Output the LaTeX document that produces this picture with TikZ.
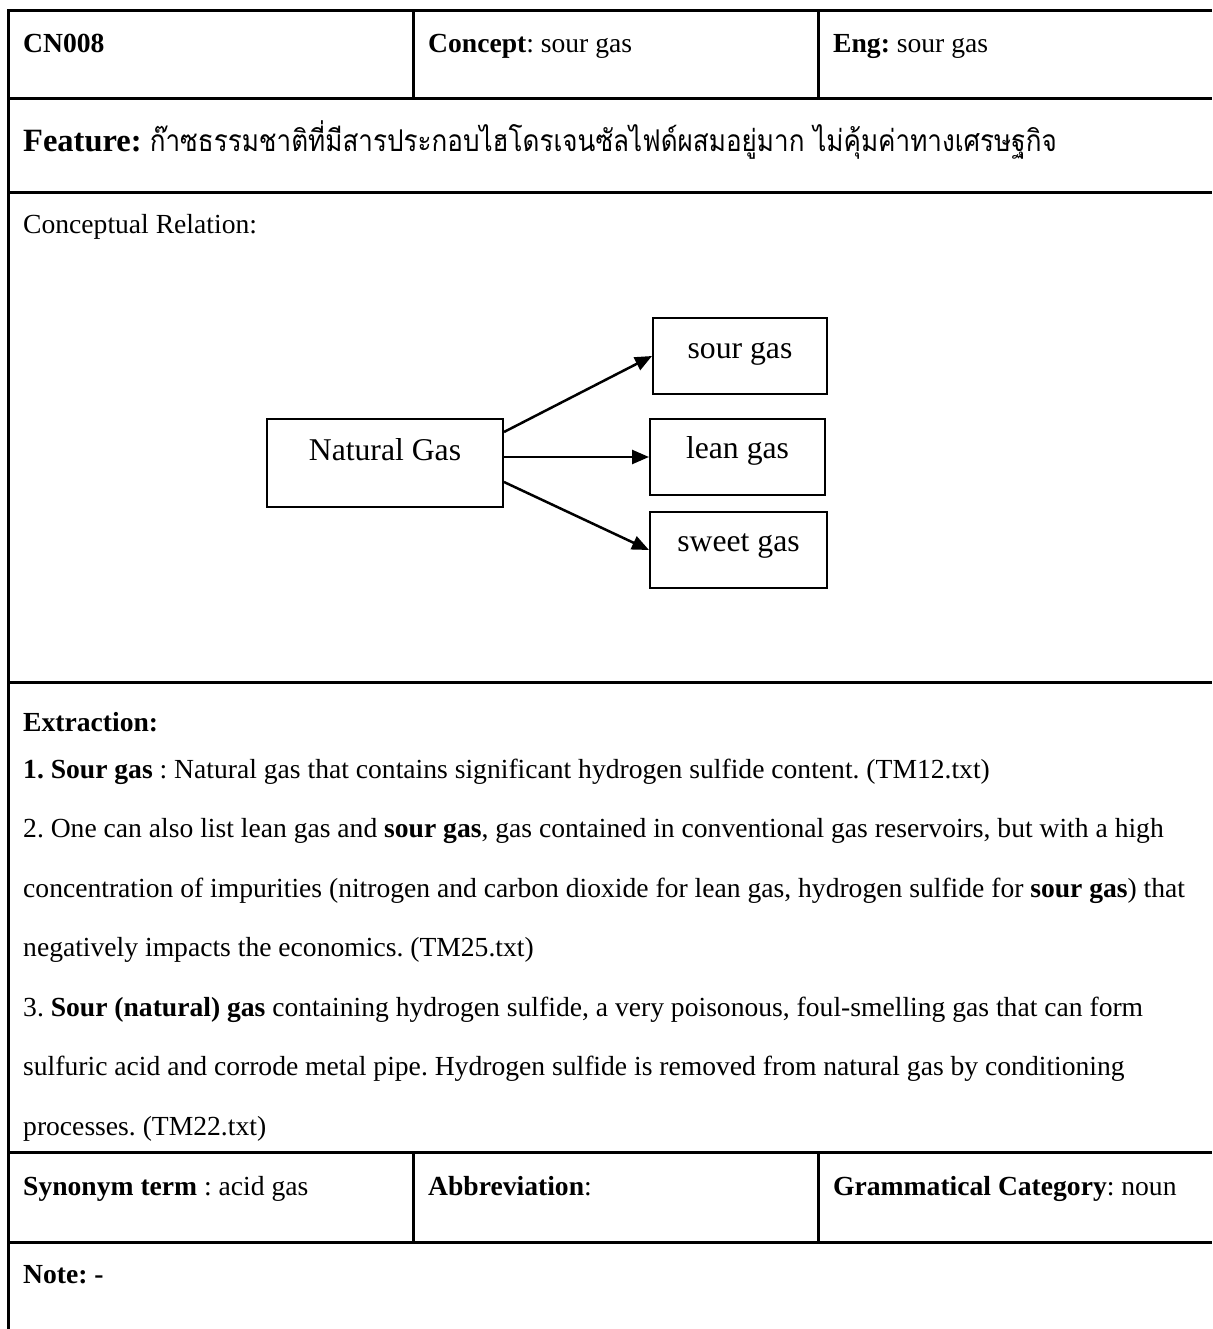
\documentclass[tikz,border=0pt]{standalone}
\usepackage{fontspec}
\usepackage{graphicx}
\setmainfont{Liberation Serif}
\newfontfamily\thaifont[Script=Thai]{Loma}
\usetikzlibrary{arrows.meta,calc}

\begin{document}
\frenchspacing
\begin{tikzpicture}[x=1pt,y=-1pt,
  rule/.style={line width=3pt},
  txt/.style={anchor=base west,inner sep=0pt,font=\fontsize{27.6}{33}\selectfont},
  bigtxt/.style={anchor=base west,inner sep=0pt,font=\fontsize{32.5}{38}\selectfont},
  box/.style={draw,line width=2pt,inner sep=0pt,anchor=north west,
              font=\fontsize{31.7}{38}\selectfont,align=center},
  link/.style={line width=2.5pt,-{Triangle[length=17pt,width=14pt]}}
]
\useasboundingbox (0,0) rectangle (1212,1329);

% table rules
\draw[rule] (1212,11) -- (8,11) -- (8,1329);
\draw[rule] (8,99) -- (1212,99);
\draw[rule] (8,193) -- (1212,193);
\draw[rule] (8,682) -- (1212,682);
\draw[rule] (8,1152) -- (1212,1152);
\draw[rule] (8,1242) -- (1212,1242);
\draw[rule] (413,11) -- (413,99);
\draw[rule] (818,11) -- (818,99);
\draw[rule] (413,1152) -- (413,1242);
\draw[rule] (818,1152) -- (818,1242);

% header row
\node[txt] (id) at (23,53) {\textbf{CN008}};
\node[txt] (concept) at (428,53) {\textbf{Concept}: sour gas};
\node[txt] (eng) at (833,53) {\textbf{Eng:} sour gas};

% feature row
\node[bigtxt] (feature) at (23,152) {\textbf{Feature:} \scalebox{1}[1.15]{\resizebox{907pt}{!}{\thaifont ก๊าซธรรมชาติที่มีสารประกอบไฮโดรเจนซัลไฟด์ผสมอยู่มาก ไม่คุ้มค่าทางเศรษฐกิจ}}};

% conceptual relation
\node[txt] (relation) at (23,234) {Conceptual Relation:};

\node[box,minimum width=236pt,text height=41pt,text depth=47pt] (ng) at (266,418) {Natural Gas};
\node[box,minimum width=174pt,text height=40pt,text depth=36pt] (sour) at (652,317) {sour gas};
\node[box,minimum width=175pt,text height=39pt,text depth=37pt] (lean) at (649,418) {lean gas};
\node[box,minimum width=177pt,text height=39pt,text depth=37pt] (sweet) at (649,511) {sweet gas};

\draw[link] ($(ng.east)+(0,-31)$) -- (sour.west);
\draw[link] (ng.east |- lean.west) -- (lean.west);
\draw[link] ($(ng.east)+(0,19)$) -- (sweet.west);

% extraction
\node[txt] (extraction) at (23,731) {\textbf{Extraction:}};
\node[txt] (ex1) at (23,778) {\textbf{1. Sour gas} : Natural gas that contains significant hydrogen sulfide content. (TM12.txt)};
\node[txt] (ex2a) at (23,837.5) {2. One can also list lean gas and \textbf{sour gas}, gas contained in conventional gas reservoirs, but with a high};
\node[txt] (ex2b) at (23,897) {concentration of impurities (nitrogen and carbon dioxide for lean gas, hydrogen sulfide for \textbf{sour gas}) that};
\node[txt] (ex2c) at (23,956.5) {negatively impacts the economics. (TM25.txt)};
\node[txt] (ex3a) at (23,1016) {3. \textbf{Sour (natural) gas} containing hydrogen sulfide, a very poisonous, foul-smelling gas that can form};
\node[txt] (ex3b) at (23,1075.5) {sulfuric acid and corrode metal pipe. Hydrogen sulfide is removed from natural gas by conditioning};
\node[txt] (ex3c) at (23,1135) {processes. (TM22.txt)};

% bottom rows
\node[txt] (syn) at (23,1195) {\textbf{Synonym term} : acid gas};
\node[txt] (abbr) at (428,1195) {\textbf{Abbreviation}:};
\node[txt] (gram) at (833,1195) {\textbf{Grammatical Category}: noun};
\node[txt] (note) at (23,1283) {\textbf{Note: -}};
\end{tikzpicture}
\end{document}
